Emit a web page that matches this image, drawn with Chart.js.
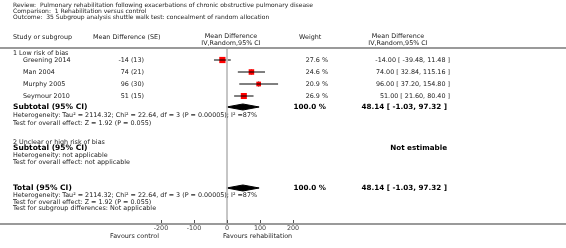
<!DOCTYPE html>
<html><head><meta charset="utf-8">
<script src="https://cdn.jsdelivr.net/npm/chart.js@4/dist/chart.umd.min.js"></script>
<style>html,body{margin:0;padding:0;background:#fff;overflow:hidden}#wrap{width:566px;height:248px;position:relative}canvas{display:block}</style>
</head><body><div id="wrap"><canvas id="c" width="566" height="248"></canvas></div>
<script>
// ---- data ----
const studies = ['Greening 2014', 'Man 2004', 'Murphy 2005', 'Seymour 2010'];
const meanDiff = [-14, 74, 96, 51];
const stdErr = [13, 21, 30, 15];
const ciLow = [-39.48, 32.84, 37.20, 21.60];
const ciHigh = [11.48, 115.16, 154.80, 80.40];
const weights = [27.6, 24.6, 20.9, 26.9];
const subtotalCI = [48.14, -1.03, 97.32]; // estimate, low, high
const totalCI = [48.14, -1.03, 97.32];
const xTicks = [-200, -100, 0, 100, 200];

// ---- layout (row units) ----
const Y_MAX = 29.33;
const rows = {group1: 0.83, studies: [2, 4, 6, 8], sub1: 9.83, het1: 11.17, test1: 12.5,
  group2: 15.75, sub2: 16.7, het2: 17.83, test2: 19, total: 23.33, hetT: 24.5, testT: 25.67, diffT: 26.67};
const DIAMOND_H = 0.5;
const FONT = "'DejaVu Sans', Verdana, sans-serif";
const NORMAL = 6.4, BOLD_L = 7.5, BOLD_R = 7.2;

const fmt2 = v => v.toFixed(2);
const ciText = (e, l, h) => `${fmt2(e)} [ ${fmt2(l)}, ${fmt2(h)} ]`;

function diamond(ci, r) {
  const [e, l, h] = ci;
  return [{x: l, y: r}, {x: e, y: r - DIAMOND_H}, {x: h, y: r}, {x: e, y: r + DIAMOND_H}, {x: l, y: r}];
}

const datasets = [];
datasets.push({data: [{x: 0, y: 0}, {x: 0, y: Y_MAX}], showLine: true, borderColor: '#bdbdbd', borderWidth: 1, pointRadius: 0});
studies.forEach((s, i) => {
  datasets.push({data: [{x: ciLow[i], y: rows.studies[i]}, {x: ciHigh[i], y: rows.studies[i]}], showLine: true,
    borderColor: '#000', borderWidth: 1, pointRadius: 0});
});
datasets.push({data: meanDiff.map((m, i) => ({x: m, y: rows.studies[i]})), pointStyle: 'rect',
  pointRadius: weights.map(w => w * 0.225 / Math.SQRT2), backgroundColor: '#ff0000', borderColor: '#ff0000', borderWidth: 0});
datasets.push({data: meanDiff.map((m, i) => ({x: m, y: rows.studies[i]})), pointStyle: 'line', rotation: 90,
  pointRadius: 2.5, borderColor: '#000', borderWidth: 1});
datasets.push({data: diamond(subtotalCI, rows.sub1), showLine: true, fill: 'shape', backgroundColor: '#000', borderColor: '#000', borderWidth: 1, pointRadius: 0, tension: 0});
datasets.push({data: diamond(totalCI, rows.total), showLine: true, fill: 'shape', backgroundColor: '#000', borderColor: '#000', borderWidth: 1, pointRadius: 0, tension: 0});

const textPlugin = {
  id: 'forestText',
  afterDraw(chart) {
    const ctx = chart.ctx;
    const ys = chart.scales.y, xs = chart.scales.x;
    const Y = u => ys.getPixelForValue(u);
    const W = chart.width;
    ctx.save();
    const txt = (s, x, y, opt = {}) => {
      ctx.font = `${opt.bold ? 'bold ' : ''}${opt.size || NORMAL}px ${FONT}`;
      ctx.fillStyle = opt.color || '#222';
      ctx.textAlign = opt.align || 'left';
      ctx.textBaseline = 'middle';
      ctx.fillText(s, x, y);
    };
    // rules
    ctx.fillStyle = '#9a9a9a';
    ctx.fillRect(0, chart.chartArea.top - 1, W, 2);
    ctx.fillRect(0, chart.chartArea.bottom - 1, W, 2);
    // tick marks
    ctx.strokeStyle = '#555'; ctx.lineWidth = 1;
    xs.ticks.forEach(t => {
      const px = Math.round(xs.getPixelForValue(t.value)) + 0.5;
      ctx.beginPath(); ctx.moveTo(px, chart.chartArea.bottom - 4); ctx.lineTo(px, chart.chartArea.bottom - 1); ctx.stroke();
    });
    // title
    txt('Review:  Pulmonary rehabilitation following exacerbations of chronic obstructive pulmonary disease', 13, 5, {size: 6});
    txt('Comparison:  1 Rehabilitation versus control', 13, 11, {size: 6});
    txt('Outcome:  35 Subgroup analysis shuttle walk test: concealment of random allocation', 13, 17, {size: 6});
    // headers
    const h1 = Y(-1.83), h2 = Y(-0.83);
    txt('Study or subgroup', 13, h1);
    txt('Mean Difference (SE)', 93, h1);
    txt('Mean Difference', 231, Y(-1.92), {align: 'center'});
    txt('IV,Random,95% CI', 231, h2, {align: 'center'});
    txt('Weight', 299, h1);
    txt('Mean Difference', 398, Y(-1.92), {align: 'center'});
    txt('IV,Random,95% CI', 398, h2, {align: 'center'});
    // group 1
    txt('1 Low risk of bias', 13, Y(rows.group1));
    studies.forEach((s, i) => {
      const y = Y(rows.studies[i]);
      txt(s, 23, y);
      txt(`${meanDiff[i]} (${stdErr[i]})`, 144, y, {align: 'right'});
      txt(`${weights[i].toFixed(1)} %`, 328, y, {align: 'right'});
      txt(ciText(meanDiff[i], ciLow[i], ciHigh[i]), 450, y, {align: 'right'});
    });
    const het = 'Heterogeneity: Tau\u00B2 = 2114.32; Chi\u00B2 = 22.64, df = 3 (P = 0.00005); I\u00B2 =87%';
    const z = 'Test for overall effect: Z = 1.92 (P = 0.055)';
    const B = {bold: true, size: BOLD_L, color: '#000'};
    const BR = {bold: true, size: BOLD_R, color: '#000', align: 'right'};
    txt('Subtotal (95% CI)', 13, Y(rows.sub1), B);
    txt('100.0 %', 326, Y(rows.sub1), BR);
    txt(ciText(...subtotalCI), 447, Y(rows.sub1), BR);
    txt(het, 13, Y(rows.het1));
    txt(z, 13, Y(rows.test1));
    // group 2
    txt('2 Unclear or high risk of bias', 13, Y(rows.group2));
    txt('Subtotal (95% CI)', 13, Y(rows.sub2), B);
    txt('Not estimable', 447, Y(rows.sub2), BR);
    txt('Heterogeneity: not applicable', 13, Y(rows.het2));
    txt('Test for overall effect: not applicable', 13, Y(rows.test2));
    // total
    txt('Total (95% CI)', 13, Y(rows.total), B);
    txt('100.0 %', 326, Y(rows.total), BR);
    txt(ciText(...totalCI), 447, Y(rows.total), BR);
    txt(het, 13, Y(rows.hetT));
    txt(z, 13, Y(rows.testT));
    txt('Test for subgroup differences: Not applicable', 13, Y(rows.diffT));
    // favours
    const fy = chart.chartArea.bottom + 12;
    txt('Favours control', 159, fy, {align: 'right'});
    txt('Favours rehabilitation', 223, fy);
    ctx.restore();
  }
};

new Chart(document.getElementById('c'), {
  type: 'scatter',
  data: {datasets},
  options: {
    responsive: false, animation: false, devicePixelRatio: 1,
    layout: {padding: {left: 161, right: 273, top: 48, bottom: 0}},
    plugins: {legend: {display: false}, tooltip: {enabled: false}},
    scales: {
      x: {type: 'linear', min: -200, max: 200,
        afterBuildTicks: s => { s.ticks = xTicks.map(v => ({value: v})); },
        afterFit: s => { s.height = 24; },
        grid: {display: false, drawTicks: false}, border: {display: false},
        ticks: {font: {family: FONT, size: 6.4}, color: '#444', padding: 1, maxRotation: 0, autoSkip: false}},
      y: {type: 'linear', display: false, min: 0, max: Y_MAX, reverse: true}
    }
  },
  plugins: [textPlugin]
});
</script>
</body></html>
